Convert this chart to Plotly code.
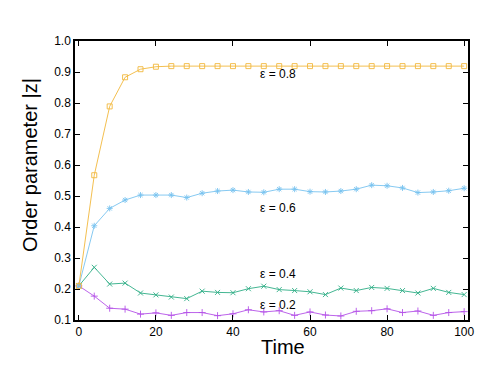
import plotly.graph_objects as go

time = [0, 4, 8, 12, 16, 20, 24, 28, 32, 36, 40, 44, 48, 52, 56, 60, 64, 68, 72, 76, 80, 84, 88, 92, 96, 100]

eps02 = [0.210, 0.177, 0.138, 0.135, 0.119, 0.123, 0.115, 0.124, 0.124, 0.114, 0.120, 0.133, 0.126,
         0.130, 0.115, 0.126, 0.116, 0.113, 0.128, 0.130, 0.136, 0.124, 0.129, 0.115, 0.124, 0.127]
eps04 = [0.210, 0.270, 0.216, 0.219, 0.187, 0.181, 0.174, 0.169, 0.193, 0.189, 0.188, 0.201, 0.209,
         0.198, 0.195, 0.191, 0.182, 0.203, 0.195, 0.205, 0.202, 0.195, 0.187, 0.202, 0.189, 0.182]
eps06 = [0.210, 0.404, 0.460, 0.487, 0.503, 0.503, 0.503, 0.495, 0.509, 0.516, 0.519, 0.513, 0.512,
         0.522, 0.522, 0.514, 0.513, 0.516, 0.522, 0.535, 0.533, 0.526, 0.511, 0.513, 0.517, 0.525]
eps08 = [0.210, 0.567, 0.789, 0.883, 0.909, 0.917, 0.919, 0.919, 0.919, 0.919, 0.919, 0.919, 0.919,
         0.919, 0.919, 0.919, 0.919, 0.919, 0.919, 0.919, 0.919, 0.919, 0.919, 0.919, 0.919, 0.919]

labels = ["ε = 0.2", "ε = 0.4", "ε = 0.6", "ε = 0.8"]
label_y = [0.147, 0.249, 0.460, 0.893]
label_x = 51.6

series = [
    (eps02, "#b452e8", "cross-thin-open"),
    (eps04, "#2fae86", "x-thin-open"),
    (eps06, "#78c3ef", "asterisk-open"),
    (eps08, "#f2b83c", "square-open"),
]

FONT = "Liberation Sans, Arial, sans-serif"

fig = go.Figure()
for (vals, col, sym), name in zip(series, labels):
    fig.add_trace(go.Scatter(
        x=time, y=vals, mode="lines+markers", name=name,
        line=dict(color=col, width=0.9),
        marker=dict(symbol=sym, size=5, color=col, line=dict(color=col, width=0.9)),
        showlegend=False,
    ))

for txt, ly in zip(labels, label_y):
    fig.add_annotation(x=label_x, y=ly, text=txt, showarrow=False,
                       font=dict(size=12, color="black", family=FONT),
                       xanchor="center", yanchor="middle")

fig.add_annotation(xref="paper", yref="paper", x=-0.1145, y=0.556,
                   text="Order parameter |z|", textangle=-90, showarrow=False,
                   font=dict(size=20, color="black", family=FONT),
                   xanchor="center", yanchor="middle")
fig.add_annotation(xref="paper", yref="paper", x=0.5305, y=-0.096,
                   text="Time", showarrow=False,
                   font=dict(size=20, color="black", family=FONT),
                   xanchor="center", yanchor="middle")

axis_common = dict(showline=True, linecolor="black", linewidth=1.5, mirror="ticks",
                   ticks="inside", ticklen=5, tickcolor="black", tickwidth=1,
                   showgrid=False, zeroline=False, automargin=False,
                   tickfont=dict(size=12, color="black", family=FONT))

fig.update_xaxes(range=[-1, 101], tickvals=[0, 20, 40, 60, 80, 100], **axis_common)
fig.update_yaxes(range=[0.1, 1.0], tickvals=[0.1, 0.2, 0.3, 0.4, 0.5, 0.6, 0.7, 0.8, 0.9, 1.0],
                 ticktext=["0.1", "0.2", "0.3", "0.4", "0.5", "0.6", "0.7", "0.8", "0.9", "1.0"],
                 **axis_common)

# page body has an 8px margin, so the figure is shrunk and shifted accordingly
fig.update_layout(width=490, height=377,
                  margin=dict(l=67, r=30, t=33, b=65, autoexpand=False),
                  plot_bgcolor="white", paper_bgcolor="white",
                  font=dict(family=FONT))

fig.write_html("out.html")
